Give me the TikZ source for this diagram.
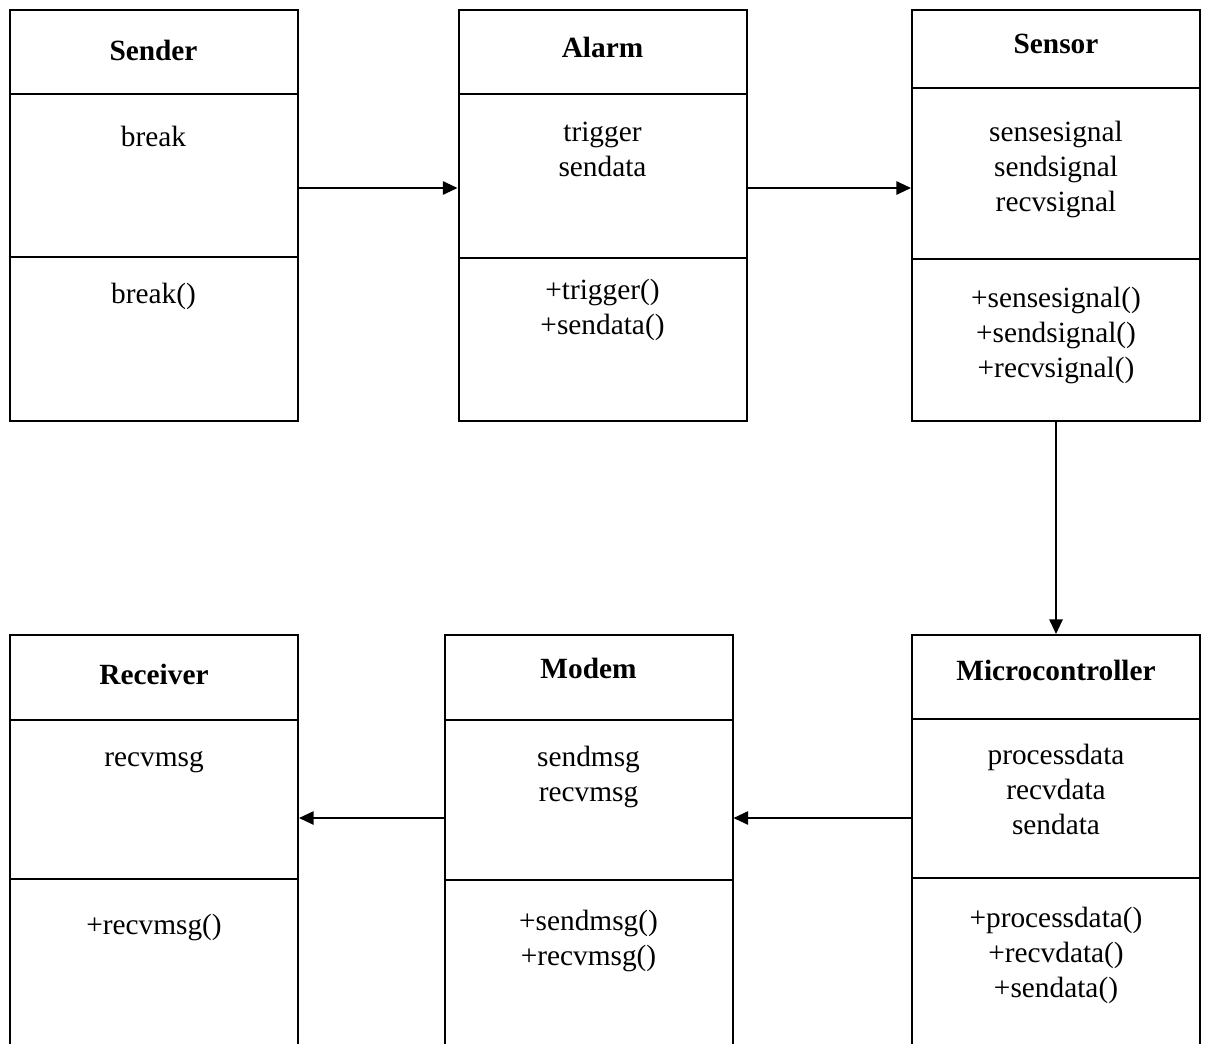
\documentclass[tikz,border=0pt]{standalone}
\usepackage{fontspec}
\setmainfont{Liberation Serif}
\usetikzlibrary{arrows.meta,calc,positioning}

\begin{document}
\begin{tikzpicture}[
  x=0.75pt, y=-0.75pt,
  classbox/.style={draw, line width=1.5pt, minimum width=216pt, inner sep=0pt},
  upper/.style={classbox, minimum height=308.25pt},
  lower/.style={classbox, minimum height=318.75pt},
  divider/.style={line width=0.8pt},
  title/.style={anchor=base, inner sep=0pt, font=\fontsize{22}{26.3}\selectfont\bfseries},
  members/.style={anchor=north, inner sep=0pt, align=center,
                  font=\fontsize{22}{26.3}\selectfont},
  arrow/.style={-{Triangle[length=11pt,width=10pt]}, line width=1.4pt},
]
  \useasboundingbox (0,0) rectangle (1205,1043);
  \clip (0,0) rectangle (1205,1043);

  % Top row of classes.
  \node[upper] (sender) at (153.5,215.5) {};
  \node[upper] (alarm) at (602.5,215.5) {};
  \node[upper] (sensor) at (1056,215.5) {};

  % Bottom row, running past the lower edge.
  \node[lower] (receiver) at (154,847.5) {};
  \node[lower] (modem) at (588.5,847.5) {};
  \node[lower] (micro) at (1056,847.5) {};

  % Compartment lines.
  \foreach \cls/\first/\second in {sender/85/248, alarm/85/249, sensor/79/250,
                                   receiver/86/245, modem/86/246, micro/85/244} {
    \draw[divider] ($(\cls.north west)+(0,\first)$) -- ($(\cls.north east)+(0,\first)$);
    \draw[divider] ($(\cls.north west)+(0,\second)$) -- ($(\cls.north east)+(0,\second)$);
  }

  % Sender.
  \node[title] (sender-name) at ($(sender.north)+(0,51)$) {Sender};
  \node[members] (sender-attr) at ($(sender.north)+(0,112.5)$) {\strut break};
  \node[members] (sender-ops) at ($(sender.north)+(0,269.5)$) {\strut break()};

  % Alarm.
  \node[title] (alarm-name) at ($(alarm.north)+(0,48)$) {Alarm};
  \node[members] (alarm-attr) at ($(alarm.north)+(0,107.5)$) {\strut trigger\\sendata};
  \node[members] (alarm-ops) at ($(alarm.north)+(0,265.5)$) {\strut +trigger()\\+sendata()};

  % Sensor.
  \node[title] (sensor-name) at ($(sensor.north)+(0,44)$) {Sensor};
  \node[members] (sensor-attr) at ($(sensor.north)+(0,107.5)$)
    {\strut sensesignal\\sendsignal\\recvsignal};
  \node[members] (sensor-ops) at ($(sensor.north)+(0,273.5)$)
    {\strut +sensesignal()\\+sendsignal()\\+recvsignal()};

  % Receiver.
  \node[title] (receiver-name) at ($(receiver.north)+(0,50)$) {Receiver};
  \node[members] (receiver-attr) at ($(receiver.north)+(0,107.5)$) {\strut recvmsg};
  \node[members] (receiver-ops) at ($(receiver.north)+(0,275.5)$) {\strut +recvmsg()};

  % Modem.
  \node[title] (modem-name) at ($(modem.north)+(0,44)$) {Modem};
  \node[members] (modem-attr) at ($(modem.north)+(0,107.5)$) {\strut sendmsg\\recvmsg};
  \node[members] (modem-ops) at ($(modem.north)+(0,271.5)$) {\strut +sendmsg()\\+recvmsg()};

  % Microcontroller.
  \node[title] (micro-name) at ($(micro.north)+(0,46)$) {Microcontroller};
  \node[members] (micro-attr) at ($(micro.north)+(0,105.5)$)
    {\strut processdata\\recvdata\\sendata};
  \node[members] (micro-ops) at ($(micro.north)+(0,268.5)$)
    {\strut +processdata()\\+recvdata()\\+sendata()};

  % Associations.
  \draw[arrow] ($(sender.north east)+(0,179)$) -- ($(alarm.north west)+(0,179)$);
  \draw[arrow] ($(alarm.north east)+(0,179)$) -- ($(sensor.north west)+(0,179)$);
  \draw[arrow] (sensor.south) -- (micro.north);
  \draw[arrow] ($(micro.north west)+(0,184)$) -- ($(modem.north east)+(0,184)$);
  \draw[arrow] ($(modem.north west)+(0,184)$) -- ($(receiver.north east)+(0,184)$);
\end{tikzpicture}
\end{document}
